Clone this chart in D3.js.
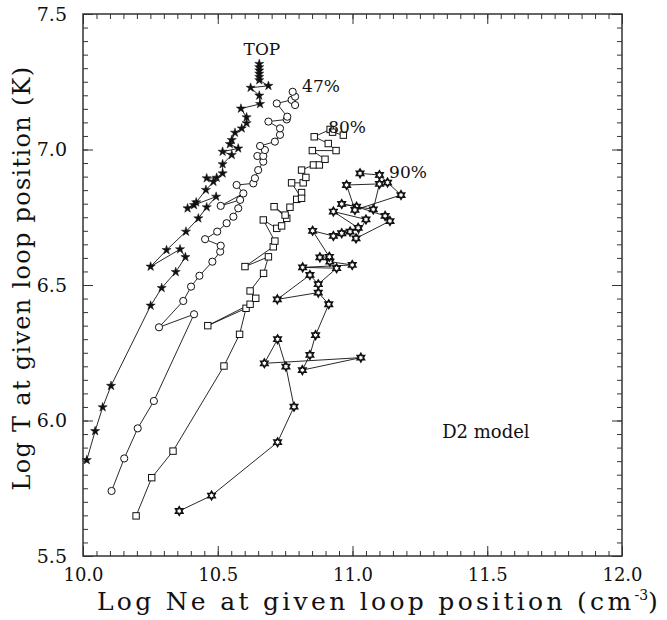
<!DOCTYPE html>
<html>
<head>
<meta charset="utf-8">
<script src="https://cdn.jsdelivr.net/npm/d3@7"></script>
<style>
  body { margin: 0; background: #fff; }
  svg text { font-family: "DejaVu Serif", "Liberation Serif", serif; fill: #111; }
</style>
</head>
<body>
<div id="chart"></div>
<script>
// log Ne / log T pairs
var topPts = [[10.014,5.854],[10.045,5.961],[10.073,6.049],[10.104,6.128],[10.251,6.424],[10.292,6.489],
  [10.344,6.548],[10.380,6.603],[10.360,6.632],[10.251,6.568],[10.310,6.629],[10.382,6.697],[10.428,6.746],
  [10.459,6.787],[10.494,6.826],[10.412,6.795],[10.388,6.783],[10.420,6.805],[10.456,6.851],[10.484,6.881],
  [10.459,6.894],[10.496,6.896],[10.518,6.912],[10.518,6.946],[10.552,6.980],[10.518,6.992],[10.576,7.004],
  [10.545,7.020],[10.552,7.035],[10.564,7.062],[10.589,7.078],[10.607,7.097],[10.607,7.119],[10.586,7.151],
  [10.657,7.168],[10.654,7.199],[10.622,7.228],[10.688,7.235],[10.654,7.256],[10.654,7.268],[10.654,7.280],
  [10.654,7.292],[10.654,7.304],[10.654,7.316]];

var p47Pts = [[10.106,5.740],[10.153,5.860],[10.203,5.971],[10.263,6.072],[10.412,6.392],[10.282,6.344],
  [10.372,6.441],[10.401,6.494],[10.432,6.534],[10.480,6.586],[10.509,6.623],[10.511,6.645],[10.453,6.669],
  [10.498,6.697],[10.533,6.728],[10.558,6.752],[10.576,6.783],[10.583,6.814],[10.511,6.792],[10.595,6.838],
  [10.570,6.869],[10.632,6.875],[10.638,6.894],[10.650,6.924],[10.669,6.955],[10.647,6.976],[10.669,6.976],
  [10.675,6.998],[10.657,7.013],[10.712,7.029],[10.731,7.054],[10.731,7.078],[10.688,7.103],[10.756,7.111],
  [10.758,7.121],[10.719,7.170],[10.774,7.183],[10.787,7.164],[10.787,7.195],[10.778,7.213]];

var p80Pts = [[10.197,5.648],[10.255,5.789],[10.334,5.887],[10.523,6.201],[10.581,6.318],[10.605,6.414],
  [10.463,6.350],[10.620,6.429],[10.641,6.451],[10.620,6.478],[10.670,6.543],[10.688,6.604],[10.601,6.568],
  [10.706,6.641],[10.712,6.662],[10.669,6.740],[10.719,6.709],[10.737,6.718],[10.756,6.746],[10.709,6.789],
  [10.750,6.758],[10.768,6.787],[10.793,6.816],[10.811,6.841],[10.811,6.820],[10.774,6.877],[10.817,6.877],
  [10.827,6.897],[10.811,6.924],[10.855,6.943],[10.877,6.943],[10.898,6.964],[10.851,6.996],[10.939,6.996],
  [10.910,7.022],[10.858,7.047],[10.917,7.074],[10.926,7.064],[10.966,7.053]];

var p90Pts = [[10.357,5.666],[10.477,5.723],[10.722,5.920],[10.783,6.051],[10.753,6.199],[10.722,6.300],
  [10.673,6.211],[11.031,6.232],[10.814,6.186],[10.842,6.242],[10.863,6.315],[10.912,6.429],[10.873,6.472],
  [10.721,6.447],[10.842,6.537],[10.873,6.503],[10.941,6.562],[10.815,6.565],[10.999,6.574],[10.916,6.586],
  [10.879,6.602],[10.914,6.604],[10.852,6.700],[10.929,6.681],[10.960,6.691],[10.991,6.697],[11.021,6.711],
  [10.929,6.771],[11.050,6.742],[11.013,6.672],[11.139,6.736],[11.121,6.755],[11.015,6.789],[10.960,6.799],
  [11.077,6.779],[11.100,6.873],[10.978,6.869],[11.009,6.777],[11.180,6.832],[11.130,6.878],[11.100,6.906],
  [11.028,6.912]];

var xMajor = [10.0, 10.5, 11.0, 11.5, 12.0];
var yMajor = [5.5, 6.0, 6.5, 7.0, 7.5];

// series labels placed in data units (baseline)
var seriesLabels = [
  {text: "TOP", x: 10.664, y: 7.35, size: 17},
  {text: "47%", x: 10.883, y: 7.212, size: 17},
  {text: "80%", x: 10.98, y: 7.06, size: 17},
  {text: "90%", x: 11.206, y: 6.895, size: 17},
  {text: "D2 model", x: 11.495, y: 5.935, size: 18}
];

var margin = {top: 14, right: 45, bottom: 64, left: 83};
var W = 667, H = 620;
var width = W - margin.left - margin.right,
    height = H - margin.top - margin.bottom;

var svg = d3.select("#chart").append("svg")
    .attr("width", W).attr("height", H)
  .append("g")
    .attr("transform", "translate(" + margin.left + "," + margin.top + ")");

var x = d3.scaleLinear().domain([10, 12]).range([0, width]);
var y = d3.scaleLinear().domain([5.5, 7.5]).range([height, 0]);

var xMinor = d3.range(10, 12.0001, 0.05).map(function(d){ return +d.toFixed(2); });
var yMinor = d3.range(5.5, 7.5001, 0.05).map(function(d){ return +d.toFixed(2); });

function styleAxis(g) {
  g.select(".domain").remove();
  g.selectAll("line").attr("stroke", "#333").attr("stroke-width", 1);
}

// minor ticks on all four sides
svg.append("g").attr("transform", "translate(0," + height + ")")
  .call(d3.axisBottom(x).tickValues(xMinor).tickSize(-5).tickFormat(""))
  .call(styleAxis);
svg.append("g")
  .call(d3.axisTop(x).tickValues(xMinor).tickSize(-5).tickFormat(""))
  .call(styleAxis);
svg.append("g")
  .call(d3.axisLeft(y).tickValues(yMinor).tickSize(-5).tickFormat(""))
  .call(styleAxis);
svg.append("g").attr("transform", "translate(" + width + ",0)")
  .call(d3.axisRight(y).tickValues(yMinor).tickSize(-5).tickFormat(""))
  .call(styleAxis);

// major ticks with labels
var xAx = svg.append("g").attr("transform", "translate(0," + height + ")")
  .call(d3.axisBottom(x).tickValues(xMajor).tickSize(-10).tickPadding(12).tickFormat(d3.format(".1f")))
  .call(styleAxis);
xAx.selectAll("text").style("font-size", "18px").style("font-family", "DejaVu Serif, serif").attr("fill", "#111");

var yAx = svg.append("g")
  .call(d3.axisLeft(y).tickValues(yMajor).tickSize(-10).tickPadding(16).tickFormat(d3.format(".1f")))
  .call(styleAxis);
yAx.selectAll("text").style("font-size", "19px").style("font-family", "DejaVu Serif, serif").attr("fill", "#111");

svg.append("g").call(d3.axisTop(x).tickValues(xMajor).tickSize(-10).tickFormat("")).call(styleAxis);
svg.append("g").attr("transform", "translate(" + width + ",0)")
  .call(d3.axisRight(y).tickValues(yMajor).tickSize(-10).tickFormat("")).call(styleAxis);

// frame
svg.append("rect")
  .attr("width", width).attr("height", height)
  .attr("fill", "none").attr("stroke", "#333").attr("stroke-width", 1.5);

var line = d3.line().x(function(d){ return x(d[0]); }).y(function(d){ return y(d[1]); });

[topPts, p47Pts, p80Pts, p90Pts].forEach(function(pts) {
  svg.append("path").datum(pts)
    .attr("d", line)
    .attr("fill", "none").attr("stroke", "#111").attr("stroke-width", 0.9);
});

// markers
svg.selectAll(".top-pt").data(topPts).enter().append("path")
  .attr("class", "top-pt")
  .attr("d", d3.symbol().type(d3.symbolStar).size(26))
  .attr("transform", function(d){ return "translate(" + x(d[0]) + "," + y(d[1]) + ")"; })
  .attr("fill", "#111").attr("stroke", "#111").attr("stroke-width", 0.5);

svg.selectAll(".p47-pt").data(p47Pts).enter().append("circle")
  .attr("class", "p47-pt")
  .attr("cx", function(d){ return x(d[0]); })
  .attr("cy", function(d){ return y(d[1]); })
  .attr("r", 3.6)
  .attr("fill", "#fff").attr("stroke", "#111").attr("stroke-width", 1);

svg.selectAll(".p80-pt").data(p80Pts).enter().append("rect")
  .attr("class", "p80-pt")
  .attr("x", function(d){ return x(d[0]) - 3.2; })
  .attr("y", function(d){ return y(d[1]) - 3.2; })
  .attr("width", 6.4).attr("height", 6.4)
  .attr("fill", "#fff").attr("stroke", "#111").attr("stroke-width", 1);

// six pointed star
var hex = (function(){
  var r = 4.1, pts = [];
  for (var i = 0; i < 12; i++) {
    var a = Math.PI / 6 * i - Math.PI / 2;
    var rr = (i % 2 === 0) ? r : r * 0.58;
    pts.push([rr * Math.cos(a), rr * Math.sin(a)]);
  }
  return "M" + pts.join("L") + "Z";
})();

svg.selectAll(".p90-pt").data(p90Pts).enter().append("path")
  .attr("class", "p90-pt")
  .attr("d", hex)
  .attr("transform", function(d){ return "translate(" + x(d[0]) + "," + y(d[1]) + ")"; })
  .attr("fill", "#fff").attr("stroke", "#111").attr("stroke-width", 1.7);

svg.selectAll(".slabel").data(seriesLabels).enter().append("text")
  .attr("class", "slabel")
  .attr("x", function(d){ return x(d.x); })
  .attr("y", function(d){ return y(d.y); })
  .attr("text-anchor", "middle")
  .style("font-size", function(d){ return d.size + "px"; })
  .text(function(d){ return d.text; });

// axis titles
var xt = svg.append("text")
  .attr("x", 296)
  .attr("y", height + 54)
  .attr("text-anchor", "middle")
  .style("font-size", "25px")
  .style("letter-spacing", "3.3px");
xt.append("tspan").text("Log Ne at given loop position (cm");
xt.append("tspan").attr("dy", -10).style("font-size", "14px").style("letter-spacing", "0px").text("-3");
xt.append("tspan").attr("dy", 10).text(")");

svg.append("text")
  .attr("transform", "translate(-53," + (height / 2 - 7) + ") rotate(-90)")
  .attr("text-anchor", "middle")
  .style("font-size", "24px")
  .style("letter-spacing", "1.3px")
  .text("Log T at given loop position (K)");
</script>
</body>
</html>
